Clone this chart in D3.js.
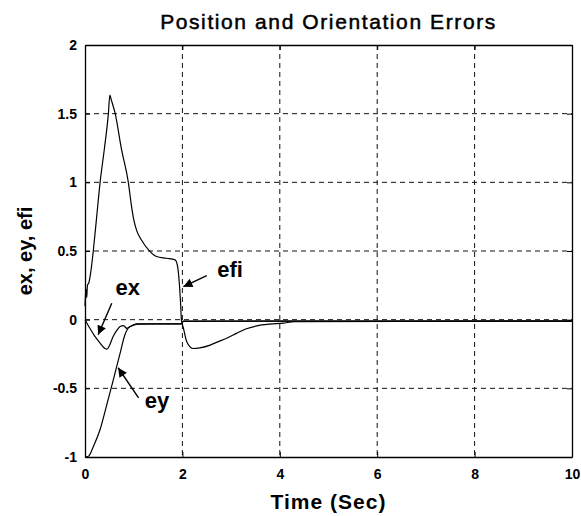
<!DOCTYPE html>
<html>
<head>
<meta charset="utf-8">
<script src="https://d3js.org/d3.v7.min.js"></script>
<style>
  body { margin: 0; background: #fff; }
  text { font-family: Arial, "Liberation Sans", Helvetica, sans-serif; fill: #000; }
  .grid line { stroke: #111; stroke-dasharray: 5,4; stroke-width: 1; }
  .curve { fill: none; stroke: #000; stroke-width: 1.2; }
</style>
</head>
<body>
<svg width="581" height="516"></svg>
<script>
// time axis ticks and value axis ticks
const xTicks = [0, 2, 4, 6, 8, 10];
const yTicks = [-1, -0.5, 0, 0.5, 1, 1.5, 2];
const yTickLabels = ['-1', '-0.5', '0', '0.5', '1', '1.5', '2'];

// curves: [time, value]
const ex = [[0,0],[0.1,-0.063],[0.2,-0.12],[0.31,-0.17],[0.41,-0.21],[0.45,-0.215],[0.5,-0.19],
  [0.58,-0.12],[0.65,-0.08],[0.72,-0.05],[0.79,-0.044],[0.86,-0.063],[0.93,-0.05],[1.06,-0.031],
  [1.5,-0.03],[1.98,-0.03],[2.02,-0.012],[4,-0.01],[10,-0.01]];
const ey = [[0,-1],[0.07,-0.995],[0.17,-0.925],[0.31,-0.8],[0.44,-0.63],[0.58,-0.44],[0.72,-0.245],
  [0.82,-0.11],[0.89,-0.06],[0.99,-0.04],[1.12,-0.032],[1.5,-0.03],[1.98,-0.03],[2.02,-0.01],[10,-0.01]];
const efi = [[0,0.1],[0.01,0.18],[0.02,0.22],[0.035,0.16],[0.05,0.25],[0.08,0.27],[0.12,0.35],[0.17,0.5],
  [0.24,0.75],[0.31,1.0],[0.4,1.25],[0.48,1.5],[0.51,1.635],[0.54,1.6],[0.62,1.5],[0.75,1.24],
  [0.89,1.0],[0.95,0.84],[1.0,0.73],[1.06,0.65],[1.16,0.58],[1.3,0.51],[1.47,0.46],[1.67,0.447],
  [1.85,0.435],[1.9,0.39],[1.94,0.25],[1.96,0.14],[1.98,0],[2.02,-0.06],[2.09,-0.16],[2.22,-0.21],
  [2.36,-0.205],[2.57,-0.185],[2.7,-0.165],[2.91,-0.135],[3.11,-0.1],[3.3,-0.068],[3.53,-0.045],
  [3.8,-0.032],[4.07,-0.025],[4.3,-0.015],[10,-0.01]];

// labels with arrows: text position, arrow start, arrow end (data units)
const notes = [
  {name: 'ex',  tx: 0.88, ty: 0.18,  x1: 0.55, y1: 0.12,  x2: 0.27, y2: -0.11},
  {name: 'ey',  tx: 1.48, ty: -0.64, x1: 1.10, y1: -0.57, x2: 0.68, y2: -0.35},
  {name: 'efi', tx: 2.98, ty: 0.31,  x1: 2.50, y1: 0.32,  x2: 2.02, y2: 0.24}
];

const svg = d3.select('svg');
const mLeft = 85, mRight = 572, mTop = 45, mBottom = 457;
const x = d3.scaleLinear().domain([0, 10]).range([mLeft, mRight]);
const y = d3.scaleLinear().domain([-1, 2]).range([mBottom, mTop]);

svg.append('defs').append('marker')
  .attr('id', 'head').attr('viewBox', '0 0 10 10')
  .attr('refX', 10).attr('refY', 5)
  .attr('markerWidth', 11).attr('markerHeight', 9)
  .attr('markerUnits', 'userSpaceOnUse')
  .attr('orient', 'auto')
  .append('path').attr('d', 'M0,0L10,5L0,10z').attr('fill', '#000');

// grid
const grid = svg.append('g').attr('class', 'grid');
grid.selectAll('.gx').data(xTicks.slice(1, -1)).enter().append('line')
  .attr('x1', d => x(d)).attr('x2', d => x(d)).attr('y1', mTop).attr('y2', mBottom);
grid.selectAll('.gy').data(yTicks.slice(1, -1)).enter().append('line')
  .attr('y1', d => y(d)).attr('y2', d => y(d)).attr('x1', mLeft).attr('x2', mRight);

// axes
svg.append('g').attr('transform', 'translate(0,' + mBottom + ')')
  .call(d3.axisBottom(x).tickValues(xTicks).tickSizeInner(-5).tickSizeOuter(0).tickPadding(12));
svg.append('g').attr('transform', 'translate(' + mLeft + ',0)')
  .call(d3.axisLeft(y).tickValues(yTicks).tickFormat((d, i) => yTickLabels[i])
    .tickSizeInner(-5).tickSizeOuter(0).tickPadding(8));
svg.append('g').attr('transform', 'translate(0,' + mTop + ')')
  .call(d3.axisTop(x).tickValues(xTicks).tickSizeInner(-5).tickSizeOuter(0).tickFormat(''));
svg.append('g').attr('transform', 'translate(' + mRight + ',0)')
  .call(d3.axisRight(y).tickValues(yTicks).tickSizeInner(-5).tickSizeOuter(0).tickFormat(''));
svg.selectAll('.domain').attr('stroke', '#000').attr('stroke-width', 1.3);
svg.selectAll('.tick line').attr('stroke', '#000');
svg.selectAll('.tick text').style('font-size', '14px').style('font-weight', 'bold')
  .style('font-family', 'Arial, "Liberation Sans", sans-serif');

// curves
const line = d3.line().x(d => x(d[0])).y(d => y(d[1])).curve(d3.curveMonotoneX);
[ex, ey, efi].forEach(s => svg.append('path').attr('class', 'curve').attr('d', line(s)));

// annotations
notes.forEach(n => {
  svg.append('line')
    .attr('x1', x(n.x1)).attr('y1', y(n.y1)).attr('x2', x(n.x2)).attr('y2', y(n.y2))
    .attr('stroke', '#000').attr('stroke-width', 1.4).attr('marker-end', 'url(#head)');
  svg.append('text').attr('x', x(n.tx)).attr('y', y(n.ty)).attr('text-anchor', 'middle')
    .style('font-size', '22px').style('font-weight', 'bold').text(n.name);
});

// titles
svg.append('text').attr('x', (mLeft + mRight) / 2).attr('y', 29).attr('text-anchor', 'middle')
  .style('font-size', '21px').style('letter-spacing', '1.6px')
  .attr('stroke', '#000').attr('stroke-width', 0.5)
  .text('Position and Orientation Errors');
svg.append('text').attr('x', (mLeft + mRight) / 2).attr('y', 509).attr('text-anchor', 'middle')
  .style('font-size', '21px').style('font-weight', 'bold').style('letter-spacing', '1px').text('Time (Sec)');
svg.append('text').attr('transform', 'translate(32,' + ((mTop + mBottom) / 2) + ') rotate(-90)')
  .attr('text-anchor', 'middle')
  .style('font-size', '20px').style('font-weight', 'bold').text('ex, ey, efi');
</script>
</body>
</html>
